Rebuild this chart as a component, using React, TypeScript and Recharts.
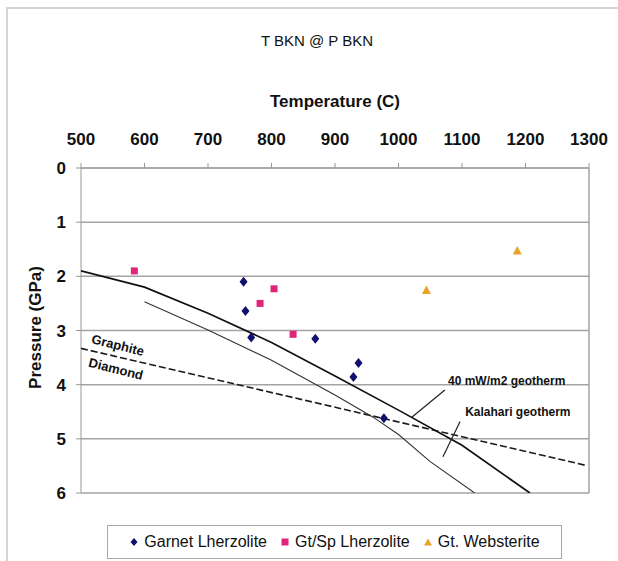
import React from 'react';
import { ScatterChart, Scatter, XAxis, YAxis, CartesianGrid, ReferenceLine, Label } from 'recharts';

const temperatureTicks = [500, 600, 700, 800, 900, 1000, 1100, 1200, 1300];
const pressureTicks = [0, 1, 2, 3, 4, 5, 6];

const garnetLherzolite = [
  { t: 756, p: 2.1 },
  { t: 759, p: 2.64 },
  { t: 768, p: 3.13 },
  { t: 869, p: 3.15 },
  { t: 937, p: 3.6 },
  { t: 929, p: 3.86 },
  { t: 977, p: 4.62 },
];
const gtSpLherzolite = [
  { t: 584, p: 1.9 },
  { t: 804, p: 2.23 },
  { t: 782, p: 2.5 },
  { t: 834, p: 3.07 },
];
const gtWebsterite = [
  { t: 1044, p: 2.26 },
  { t: 1187, p: 1.53 },
];

const geotherm40 = [
  { t: 500, p: 1.9 },
  { t: 600, p: 2.2 },
  { t: 700, p: 2.68 },
  { t: 800, p: 3.22 },
  { t: 900, p: 3.84 },
  { t: 1000, p: 4.47 },
  { t: 1100, p: 5.12 },
  { t: 1207, p: 6.0 },
];
const kalahariGeotherm = [
  { t: 600, p: 2.47 },
  { t: 700, p: 2.99 },
  { t: 800, p: 3.55 },
  { t: 900, p: 4.19 },
  { t: 960, p: 4.6 },
  { t: 1000, p: 4.92 },
  { t: 1050, p: 5.42 },
  { t: 1120, p: 6.0 },
];
const graphiteDiamond = [
  { t: 500, p: 3.33 },
  { t: 1295, p: 5.49 },
];
const leader40 = [
  { t: 1073, p: 4.1 },
  { t: 1021, p: 4.6 },
];
const leaderKalahari = [
  { t: 1097, p: 4.68 },
  { t: 1070, p: 5.33 },
];
const annotations = [
  { t: 1078, p: 3.93, text: '40 mW/m2 geotherm', angle: 0, anchor: 'start', size: 12 },
  { t: 1105, p: 4.5, text: 'Kalahari geotherm', angle: 0, anchor: 'start', size: 12 },
  { t: 558, p: 3.27, text: 'Graphite', angle: 14, anchor: 'middle', size: 13 },
  { t: 555, p: 3.71, text: 'Diamond', angle: 14, anchor: 'middle', size: 13 },
];

const legendItems = [
  { name: 'Garnet Lherzolite', color: '#10106e', shape: 'diamond' },
  { name: 'Gt/Sp Lherzolite', color: '#e0247a', shape: 'square' },
  { name: 'Gt. Websterite', color: '#e8a32a', shape: 'triangle' },
];

const FONT = '"Liberation Sans", Arial, sans-serif';

const Diamond = (props: any) => {
  const { cx, cy } = props;
  return <polygon points={`${cx},${cy - 5} ${cx + 4},${cy} ${cx},${cy + 5} ${cx - 4},${cy}`} fill="#10106e" />;
};
const Square = (props: any) => {
  const { cx, cy } = props;
  return <rect x={cx - 3.5} y={cy - 3.5} width={7} height={7} fill="#e0247a" />;
};
const Triangle = (props: any) => {
  const { cx, cy } = props;
  return <polygon points={`${cx},${cy - 5} ${cx + 4.5},${cy + 3.5} ${cx - 4.5},${cy + 3.5}`} fill="#e8a32a" />;
};
const NoShape = () => <g />;
const AnnotationText = (props: any) => {
  const { cx, cy, payload } = props;
  return (
    <text
      x={cx}
      y={cy}
      textAnchor={payload.anchor}
      dominantBaseline="central"
      transform={`rotate(${payload.angle}, ${cx}, ${cy})`}
      fontFamily={FONT}
      fontWeight="bold"
      fontSize={payload.size}
      fill="#111"
    >
      {payload.text}
    </text>
  );
};

const LegendIcon = ({ shape, color }: { shape: string; color: string }) => (
  <svg width={10} height={10} style={{ display: 'block' }}>
    {shape === 'diamond' && <polygon points="5,1 8.5,5 5,9 1.5,5" fill={color} />}
    {shape === 'square' && <rect x={1.5} y={1.5} width={7} height={7} fill={color} />}
    {shape === 'triangle' && <polygon points="5,1.5 9,8.5 1,8.5" fill={color} />}
  </svg>
);

const tickStyle = { fontFamily: FONT, fontWeight: 'bold' as const, fontSize: 17, fill: '#111' };

export default function App() {
  return (
    <div style={{ position: 'absolute', left: 0, top: 0, width: 618, height: 561, background: '#fff', overflow: 'hidden' }}>
      <div
        style={{
          position: 'absolute', left: 6, top: 7, width: 620, height: 560,
          borderTop: '2px solid #d4d4d4', borderLeft: '2px solid #d4d4d4',
        }}
      />
      <div
        style={{
          position: 'absolute', left: 217, top: 32, width: 200, textAlign: 'center',
          fontFamily: FONT, fontSize: 15, lineHeight: '18px', color: '#111',
        }}
      >
        T BKN @ P BKN
      </div>
      <div style={{ position: 'absolute', left: 0, top: 0 }}>
        <ScatterChart width={618} height={561} margin={{ top: 95, right: 29, bottom: 68, left: 10 }}>
          <CartesianGrid vertical={false} stroke="#a3a3a3" strokeWidth={1.5} />
          <XAxis
            type="number"
            dataKey="t"
            orientation="top"
            domain={[500, 1300]}
            ticks={temperatureTicks}
            allowDataOverflow
            height={73}
            tickSize={5}
            tickMargin={18}
            stroke="#999"
            tickLine={{ stroke: '#999' }}
            tick={tickStyle}
          >
            <Label value="Temperature (C)" position="insideTop" offset={0} style={{ fontFamily: FONT, fontWeight: 'bold', fontSize: 17, fill: '#111' }} />
          </XAxis>
          <YAxis
            type="number"
            dataKey="p"
            domain={[0, 6]}
            reversed
            ticks={pressureTicks}
            allowDataOverflow
            width={71}
            tickSize={5}
            tickMargin={10}
            stroke="#999"
            tickLine={{ stroke: '#999' }}
            tick={tickStyle}
          >
            <Label
              content={(props: any) => {
                const vb = props.viewBox;
                const x = vb.x + 25;
                const y = vb.y + vb.height / 2 - 3;
                return (
                  <text
                    x={x}
                    y={y}
                    textAnchor="middle"
                    dominantBaseline="central"
                    transform={`rotate(-90, ${x}, ${y})`}
                    fontFamily={FONT}
                    fontWeight="bold"
                    fontSize={17}
                    fill="#111"
                  >
                    Pressure (GPa)
                  </text>
                );
              }}
            />
          </YAxis>
          <ReferenceLine x={1300} stroke="#a3a3a3" strokeWidth={1.5} />
          <Scatter name="Graphite/Diamond" data={graphiteDiamond} fill="#1a1a1a" line={{ stroke: '#1a1a1a', strokeWidth: 1.6, strokeDasharray: '7 3' }} lineType="joint" shape={NoShape} isAnimationActive={false} legendType="none" />
          <Scatter name="Kalahari geotherm" data={kalahariGeotherm} fill="#333" line={{ stroke: '#333', strokeWidth: 1.1 }} lineType="joint" shape={NoShape} isAnimationActive={false} legendType="none" />
          <Scatter name="40 mW/m2 geotherm" data={geotherm40} fill="#111" line={{ stroke: '#111', strokeWidth: 1.7 }} lineType="joint" shape={NoShape} isAnimationActive={false} legendType="none" />
          <Scatter name="leader40" data={leader40} fill="#222" line={{ stroke: '#222', strokeWidth: 1.2 }} lineType="joint" shape={NoShape} isAnimationActive={false} legendType="none" />
          <Scatter name="leaderKalahari" data={leaderKalahari} fill="#222" line={{ stroke: '#222', strokeWidth: 1.2 }} lineType="joint" shape={NoShape} isAnimationActive={false} legendType="none" />
          <Scatter name="Garnet Lherzolite" data={garnetLherzolite} fill="#10106e" shape={Diamond} isAnimationActive={false} />
          <Scatter name="Gt/Sp Lherzolite" data={gtSpLherzolite} fill="#e0247a" shape={Square} isAnimationActive={false} />
          <Scatter name="Gt. Websterite" data={gtWebsterite} fill="#e8a32a" shape={Triangle} isAnimationActive={false} />
          <Scatter name="annotations" data={annotations} shape={AnnotationText} isAnimationActive={false} legendType="none" />
        </ScatterChart>
      </div>
      <div
        style={{
          position: 'absolute', left: 107, top: 525, width: 455, height: 34, boxSizing: 'border-box',
          border: '1px solid #a8a8a8', display: 'flex', alignItems: 'center', justifyContent: 'center',
          fontFamily: FONT, fontSize: 16, color: '#111', background: '#fff',
        }}
      >
        {legendItems.map((it, i) => (
          <div key={it.name} style={{ display: 'flex', alignItems: 'center', marginLeft: i === 0 ? 0 : 13 }}>
            <LegendIcon shape={it.shape} color={it.color} />
            <span style={{ marginLeft: 5, whiteSpace: 'nowrap' }}>{it.name}</span>
          </div>
        ))}
      </div>
    </div>
  );
}
